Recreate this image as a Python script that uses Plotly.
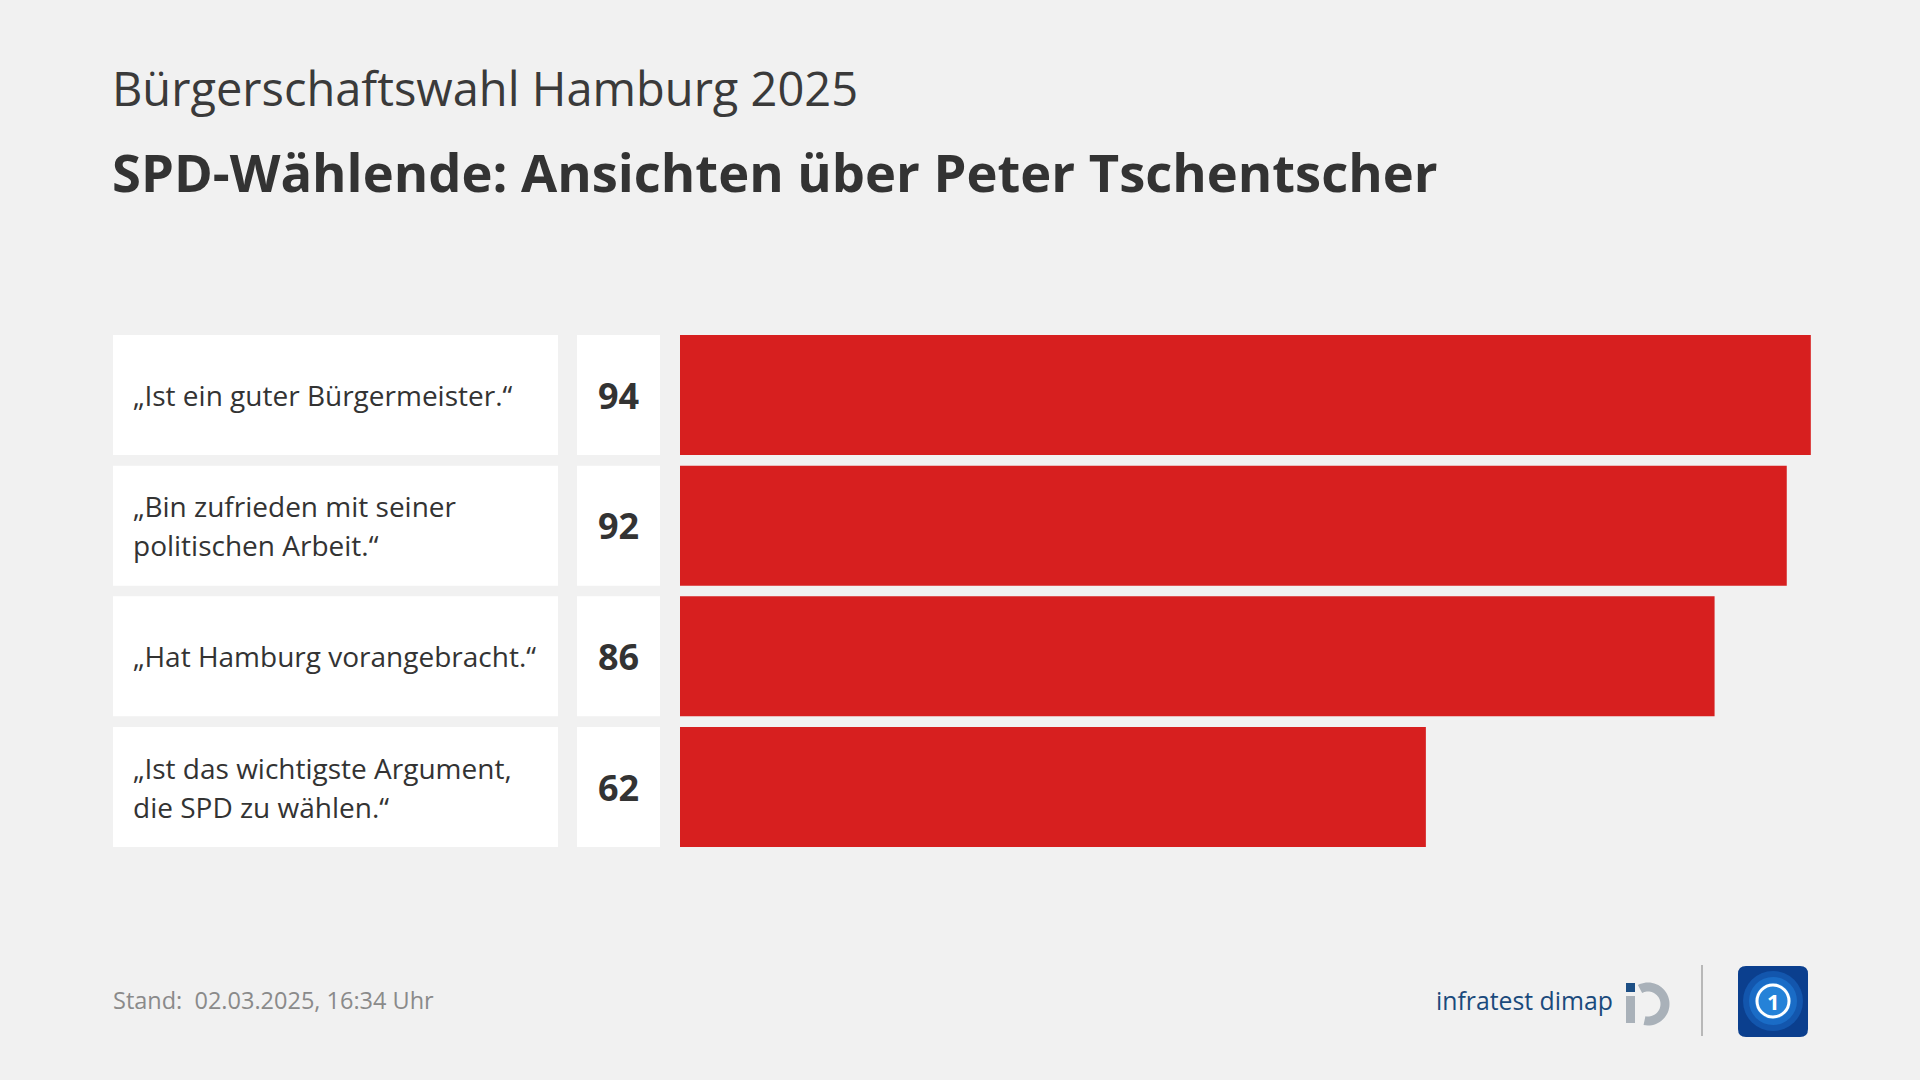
import numpy as np
import plotly.graph_objects as go

# ---------------- data ----------------
statements = [
    "„Ist ein guter Bürgermeister.“",
    "„Bin zufrieden mit seiner<br>politischen Arbeit.“",
    "„Hat Hamburg vorangebracht.“",
    "„Ist das wichtigste Argument,<br>die SPD zu wählen.“",
]
values = [94, 92, 86, 62]
supertitle = "Bürgerschaftswahl Hamburg 2025"
title = "SPD-Wählende: Ansichten über Peter Tschentscher"
footer = "Stand:  02.03.2025, 16:34 Uhr"
source = "infratest dimap"

# ---------------- style ----------------
W, H = 1920, 1080
BG = "#f1f1f1"
RED = "#d71f1f"
TXT = "#333333"
FONT = "Open Sans"

def px(x):
    return x / W

def py(y):
    return 1 - y / H

cats = [f"r{i}" for i in range(len(values))]
bar_w = 0.918

fig = go.Figure()
# label boxes
fig.add_trace(go.Bar(y=cats, x=[1] * len(cats), orientation="h", xaxis="x2", yaxis="y",
                     marker=dict(color="white", line=dict(width=0)), width=bar_w,
                     hoverinfo="skip", showlegend=False))
# value boxes
fig.add_trace(go.Bar(y=cats, x=[1] * len(cats), orientation="h", xaxis="x3", yaxis="y",
                     marker=dict(color="white", line=dict(width=0)), width=bar_w,
                     hoverinfo="skip", showlegend=False))
# red bars
fig.add_trace(go.Bar(y=cats, x=values, orientation="h", xaxis="x", yaxis="y",
                     marker=dict(color=RED, line=dict(width=0)), width=bar_w,
                     hoverinfo="skip", showlegend=False))

annotations = []
for c, lab, v in zip(cats, statements, values):
    lines = lab.split("<br>")
    n = len(lines)
    for k, line in enumerate(lines):
        shift = (-(k - (n - 1) / 2)) * 39
        annotations.append(dict(x=0, y=c, xref="x2", yref="y", text=line, showarrow=False,
                                xanchor="left", yanchor="middle", xshift=18, yshift=shift,
                                font=dict(family=FONT, size=28, color=TXT)))
    annotations.append(dict(x=0.5, y=c, xref="x3", yref="y", text=str(v), showarrow=False,
                            xanchor="center", yanchor="middle",
                            font=dict(family=FONT, size=36, color=TXT, weight="bold")))

annotations += [
    dict(x=px(110), y=py(88), xref="paper", yref="paper", text=supertitle, showarrow=False,
         xanchor="left", yanchor="middle", font=dict(family=FONT, size=47, color="#3a3a3a")),
    dict(x=px(110), y=py(171), xref="paper", yref="paper", text=title, showarrow=False,
         xanchor="left", yanchor="middle",
         font=dict(family=FONT, size=52.5, color=TXT, weight="bold")),
    dict(x=px(111), y=py(1000), xref="paper", yref="paper", text=footer, showarrow=False,
         xanchor="left", yanchor="middle", font=dict(family=FONT, size=23.5, color="#8a8a8a")),
    dict(x=px(1434), y=py(1000), xref="paper", yref="paper", text=source, showarrow=False,
         xanchor="left", yanchor="middle", font=dict(family=FONT, size=24.8, color="#1a4a7c")),
    dict(x=px(1773), y=py(1001), xref="paper", yref="paper", text="<b>1</b>", showarrow=False,
         xanchor="center", yanchor="middle", font=dict(family=FONT, size=22, color="white")),
]

shapes = []

def arc_path(cx, cy, r_out, r_in, a1, a2, n=40):
    angs = np.linspace(np.radians(a1), np.radians(a2), n)
    pts = [(cx + r_out * np.cos(a), cy - r_out * np.sin(a)) for a in angs]
    pts += [(cx + r_in * np.cos(a), cy - r_in * np.sin(a)) for a in angs[::-1]]
    s = "M " + " L ".join(f"{px(x):.5f},{py(y):.5f}" for x, y in pts) + " Z"
    return s

# infratest dimap icon
shapes.append(dict(type="rect", xref="paper", yref="paper", x0=px(1626), x1=px(1635),
                   y0=py(992), y1=py(983), fillcolor="#1d4f85", line=dict(width=0)))
shapes.append(dict(type="rect", xref="paper", yref="paper", x0=px(1626), x1=px(1635),
                   y0=py(1023), y1=py(996), fillcolor="#a9b1b9", line=dict(width=0)))
shapes.append(dict(type="path", xref="paper", yref="paper",
                   path=arc_path(1648, 1004, 21.5, 12.5, 118, -102),
                   fillcolor="#a9b1b9", line=dict(width=0)))
# separator
shapes.append(dict(type="line", xref="paper", yref="paper", x0=px(1702), x1=px(1702),
                   y0=py(965), y1=py(1036), line=dict(color="#b8b8b8", width=2)))

# tagesschau logo
def rrect(x0, y0, x1, y1, r):
    p = [f"M {px(x0 + r):.5f},{py(y0):.5f}",
         f"L {px(x1 - r):.5f},{py(y0):.5f}",
         f"Q {px(x1):.5f},{py(y0):.5f} {px(x1):.5f},{py(y0 + r):.5f}",
         f"L {px(x1):.5f},{py(y1 - r):.5f}",
         f"Q {px(x1):.5f},{py(y1):.5f} {px(x1 - r):.5f},{py(y1):.5f}",
         f"L {px(x0 + r):.5f},{py(y1):.5f}",
         f"Q {px(x0):.5f},{py(y1):.5f} {px(x0):.5f},{py(y1 - r):.5f}",
         f"L {px(x0):.5f},{py(y0 + r):.5f}",
         f"Q {px(x0):.5f},{py(y0):.5f} {px(x0 + r):.5f},{py(y0):.5f} Z"]
    return " ".join(p)

shapes.append(dict(type="path", xref="paper", yref="paper", path=rrect(1738, 966, 1808, 1037, 8),
                   fillcolor="#0b3f8e", line=dict(width=0)))
for r, col in [(30, "#1356ad"), (24, "#1a6cc6"), (18, "#2582d8")]:
    shapes.append(dict(type="circle", xref="paper", yref="paper",
                       x0=px(1773 - r), x1=px(1773 + r), y0=py(1001 + r), y1=py(1001 - r),
                       fillcolor=col, line=dict(width=0)))
shapes.append(dict(type="circle", xref="paper", yref="paper",
                   x0=px(1773 - 16), x1=px(1773 + 16), y0=py(1001 + 16), y1=py(1001 - 16),
                   fillcolor="rgba(0,0,0,0)", line=dict(color="white", width=3)))

top_px, pitch = 329.67, 130.67
bottom_px = top_px + pitch * len(cats)

fig.update_layout(
    width=W, height=H,
    margin=dict(l=0, r=0, t=0, b=0),
    paper_bgcolor=BG, plot_bgcolor=BG,
    barmode="overlay",
    showlegend=False,
    xaxis=dict(domain=[px(680), px(1883)], range=[0, 100], visible=False, fixedrange=True),
    xaxis2=dict(domain=[px(113), px(558)], range=[0, 1], visible=False, anchor="y"),
    xaxis3=dict(domain=[px(577), px(660)], range=[0, 1], visible=False, anchor="y"),
    yaxis=dict(domain=[py(bottom_px), py(top_px)], type="category", categoryorder="array",
               categoryarray=cats, range=[len(cats) - 0.5, -0.5], visible=False),
    annotations=annotations,
    shapes=shapes,
)

fig.write_html("out.html", config={"displayModeBar": False},
               post_script="document.body.style.margin='0';document.body.style.overflow='hidden';")
